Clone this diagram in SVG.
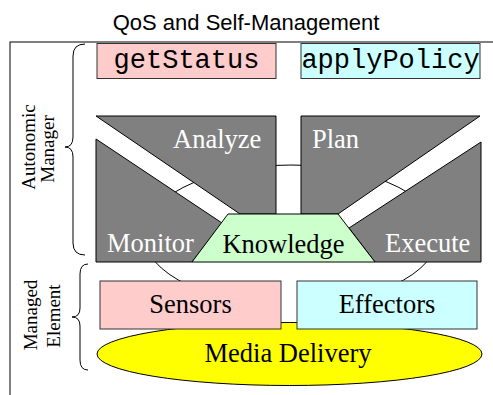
<svg xmlns="http://www.w3.org/2000/svg" width="493" height="395" viewBox="0 0 493 395">
<style>
.g{fill:#808080;stroke:#000;stroke-width:1}
.wt{font-family:"Liberation Serif","Times New Roman",serif;font-size:26.5px;fill:#fff}
.bt{font-family:"Liberation Serif","Times New Roman",serif;font-size:26.5px;fill:#000}
.mono{font-family:"Liberation Mono","Courier New",monospace;font-size:27px;fill:#000;text-anchor:middle}
.side{font-family:"Liberation Serif","Times New Roman",serif;font-size:19px;fill:#000;text-anchor:middle}
.ln{fill:none;stroke:#000;stroke-width:1}
</style>
<rect width="493" height="395" fill="#fff"/>
<text x="246" y="30" font-family="Liberation Sans, Arial, sans-serif" font-size="22" text-anchor="middle">QoS and Self-Management</text>
<rect x="10" y="42" width="500" height="400" class="ln"/>
<g id="braces">
<path class="ln" d="M85,44 Q73,44 73,56 L73,137 Q73,147 65,147 Q73,147 73,157 L73,243 Q73,255 85,255"/>
<path class="ln" d="M88,264 Q80,264 80,274 L80,308 Q80,317 72,317 Q80,317 80,326 L80,360 Q80,370 88,370"/>
</g>
<g id="labels">
<text class="side" transform="translate(35,147) rotate(-90)">Autonomic</text>
<text class="side" transform="translate(54,149) rotate(-90)">Manager</text>
<text class="side" transform="translate(37,315) rotate(-90)">Managed</text>
<text class="side" transform="translate(60,316) rotate(-90)">Element</text>
</g>
<g id="connectors">
<path class="ln" d="M200,290 A147,70 0 1,1 382,290"/>
</g>
<g id="getStatus">
<rect x="97" y="43.5" width="179" height="35" fill="#ffcccc" stroke="#333" stroke-width="1"/>
<text class="mono" x="186.5" y="68">getStatus</text>
</g>
<g id="applyPolicy">
<rect x="301" y="43.5" width="179" height="35" fill="#ccffff" stroke="#333" stroke-width="1"/>
<text class="mono" x="390.5" y="68">applyPolicy</text>
</g>
<g id="analyze">
<polygon class="g" points="96,116 276,116 276,214 240,214"/>
<text class="wt" x="173" y="148">Analyze</text>
</g>
<g id="plan">
<polygon class="g" points="301,116 480,116 338,214 301,214"/>
<text class="wt" x="312" y="148">Plan</text>
</g>
<g id="monitor">
<polygon class="g" points="96,139 222,223 192,262 96,262"/>
<text class="wt" x="107" y="252">Monitor</text>
</g>
<g id="execute">
<polygon class="g" points="481,142 481,262 375,262 349,228"/>
<text class="wt" x="385" y="252">Execute</text>
</g>
<g id="knowledge">
<polygon points="228,214 338,214 375,262 192,262" fill="#ccffcc" stroke="#000" stroke-width="1"/>
<text class="bt" x="283.5" y="253" text-anchor="middle">Knowledge</text>
</g>
<g id="media">
<ellipse cx="289.5" cy="354" rx="192.5" ry="31.5" fill="#ffff00" stroke="#000" stroke-width="1"/>
<text class="bt" x="288" y="362" text-anchor="middle">Media Delivery</text>
</g>
<g id="sensors">
<rect x="100" y="281" width="181" height="48" fill="#ffcccc" stroke="#333" stroke-width="1"/>
<text class="bt" x="190.5" y="313" text-anchor="middle">Sensors</text>
</g>
<g id="effectors">
<rect x="297" y="281" width="180" height="48" fill="#ccffff" stroke="#333" stroke-width="1"/>
<text class="bt" x="387" y="313" text-anchor="middle">Effectors</text>
</g>
</svg>
